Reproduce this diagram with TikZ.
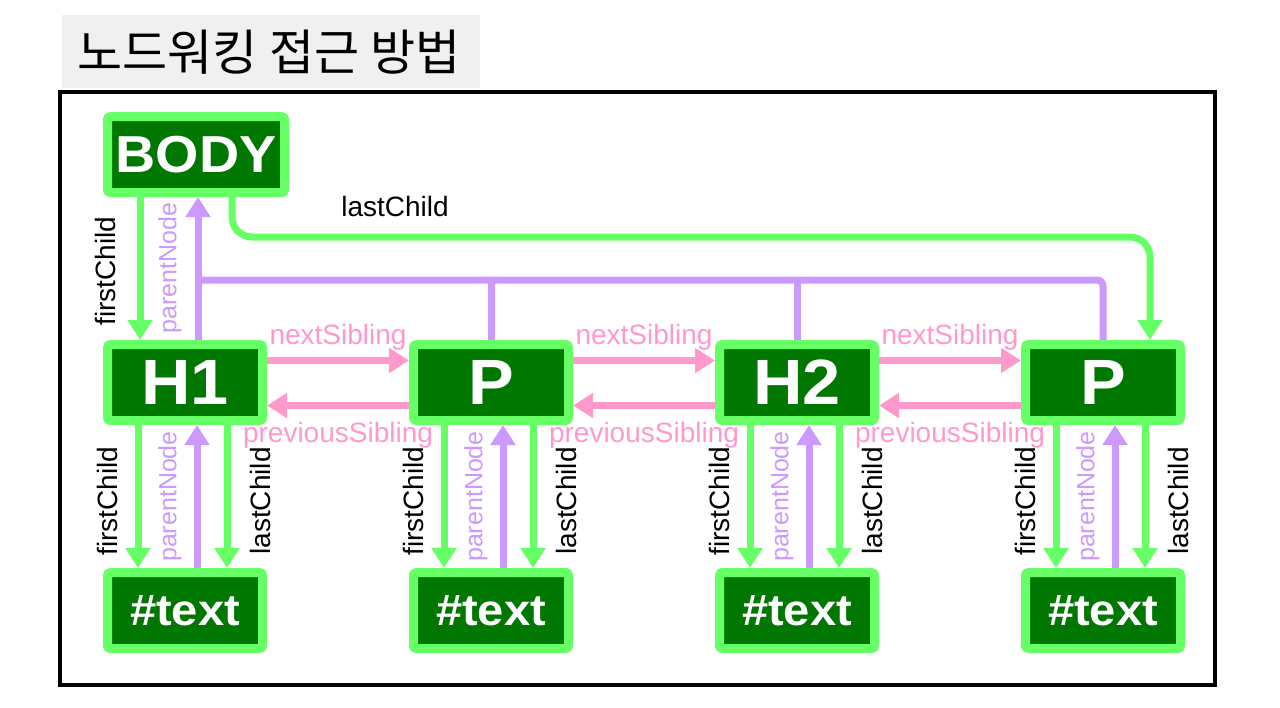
\documentclass[tikz,border=0pt]{standalone}
\usepackage{fontspec}
\setmainfont{Liberation Sans}
\newfontfamily\krfont{Noto Sans CJK KR}
\newfontfamily\nodefont{Liberation Sans}[FakeStretch=1.07]
\usetikzlibrary{arrows.meta,calc}
\definecolor{lg}{HTML}{66FF66}
\definecolor{dg}{HTML}{007700}
\definecolor{pu}{HTML}{CC99FF}
\definecolor{pk}{HTML}{FF99CC}
\definecolor{tg}{HTML}{F0F0F0}
\begin{document}
\begin{tikzpicture}[x=1pt,y=-1pt,
  dom/.style={draw=lg, fill=dg, line width=9pt, rounded corners=3pt, inner sep=0pt, outer sep=4.5pt,
    minimum width=155pt, minimum height=76pt, text=white, font=\nodefont\bfseries\fontsize{64}{64}\selectfont},
  txtnode/.style={dom, font=\nodefont\bfseries\fontsize{44}{44}\selectfont},
  tip/.style={-{Triangle[width=24pt,length=20pt]}},
  garr/.style={draw=lg, line width=7pt, tip},
  parr/.style={draw=pu, line width=7pt, tip},
  pline/.style={draw=pu, line width=7pt},
  karr/.style={draw=pk, line width=7pt, tip},
  lbl/.style={inner sep=0pt, font=\fontsize{28}{28}\selectfont},
  plbl/.style={inner sep=0pt, text=pu, font=\fontsize{25}{25}\selectfont},
  klbl/.style={inner sep=0pt, text=pk, font=\fontsize{28}{28}\selectfont, anchor=base}
]
\useasboundingbox (0,0) rectangle (1280,707);
% title
\fill[tg] (62,15) rectangle (480,88);
\node[inner sep=0pt, font=\krfont\fontsize{49}{49}\selectfont] (title) at (269,52) {노드워킹 접근 방법};
% frame
\draw[line width=4pt] (60,92) rectangle (1215,685);

% nodes
\node[dom, minimum width=177pt, font=\nodefont\bfseries\fontsize{52}{52}\selectfont] (BODY) at (196,154.5) {BODY};
\node[dom] (H1) at (185,382.5) {H1};
\node[dom] (P1) at (491,382.5) {P};
\node[dom] (H2) at (797,382.5) {H2};
\node[dom] (P2) at (1103,382.5) {P};
\node[txtnode] (T1) at (185,610.5) {\#text};
\node[txtnode] (T2) at (491,610.5) {\#text};
\node[txtnode] (T3) at (797,610.5) {\#text};
\node[txtnode] (T4) at (1103,610.5) {\#text};

% BODY connectors
\coordinate (bus) at (0,280);
\coordinate (lcy) at (0,237);
\coordinate (b1) at ($(H1.north)+(-45,0)$);
\coordinate (b2) at ($(H1.north)+(13,0)$);
\coordinate (l1) at ($(BODY.south)+(36,0)$);
\coordinate (l2) at ($(P2.north)+(47,0)$);
\draw[pline, rounded corners=6pt] (b2 |- bus) -- (P2.north |- bus) -- (P2.north);
\draw[pline] (P1.north) -- (P1.north |- bus);
\draw[pline] (H2.north) -- (H2.north |- bus);
\draw[garr] (b1 |- BODY.south) -- (b1);
\draw[parr] (b2) -- (b2 |- BODY.south);
\draw[garr, rounded corners=20pt] (l1) -- (l1 |- lcy) -- (l2 |- lcy) -- (l2);
\node[lbl, anchor=base] (blc) at (395,216) {lastChild};
\node[lbl, rotate=90] (bfc) at (105,271) {firstChild};
\node[plbl, rotate=90] (bpn) at (170,268) {parentNode};

% child connectors
\foreach \n/\t/\i in {H1/T1/1,P1/T2/2,H2/T3/3,P2/T4/4} {
  \draw[garr] ([xshift=-47pt]\n.south) -- ([xshift=-47pt]\t.north);
  \draw[parr] ([xshift=12pt]\t.north) -- ([xshift=12pt]\n.south);
  \draw[garr] ([xshift=42pt]\n.south) -- ([xshift=42pt]\t.north);
  \node[lbl, rotate=90] (fc\i) at ($(\n.center)+(-78,118.5)$) {firstChild};
  \node[plbl, rotate=90] (pn\i) at ($(\n.center)+(-15,114)$) {parentNode};
  \node[lbl, rotate=90] (lc\i) at ($(\n.center)+(75,118.5)$) {lastChild};
}

% sibling connectors
\foreach \a/\b/\i in {H1/P1/1,P1/H2/2,H2/P2/3} {
  \draw[karr] ([yshift=22pt]\a.east) -- ([yshift=22pt]\b.west);
  \draw[karr] ([yshift=-23pt]\b.west) -- ([yshift=-23pt]\a.east);
  \node[klbl] (ns\i) at ($(\a.center)!0.5!(\b.center)+(0,-38.5)$) {nextSibling};
  \node[klbl] (ps\i) at ($(\a.center)!0.5!(\b.center)+(0,59.5)$) {previousSibling};
}
\end{tikzpicture}
\end{document}
